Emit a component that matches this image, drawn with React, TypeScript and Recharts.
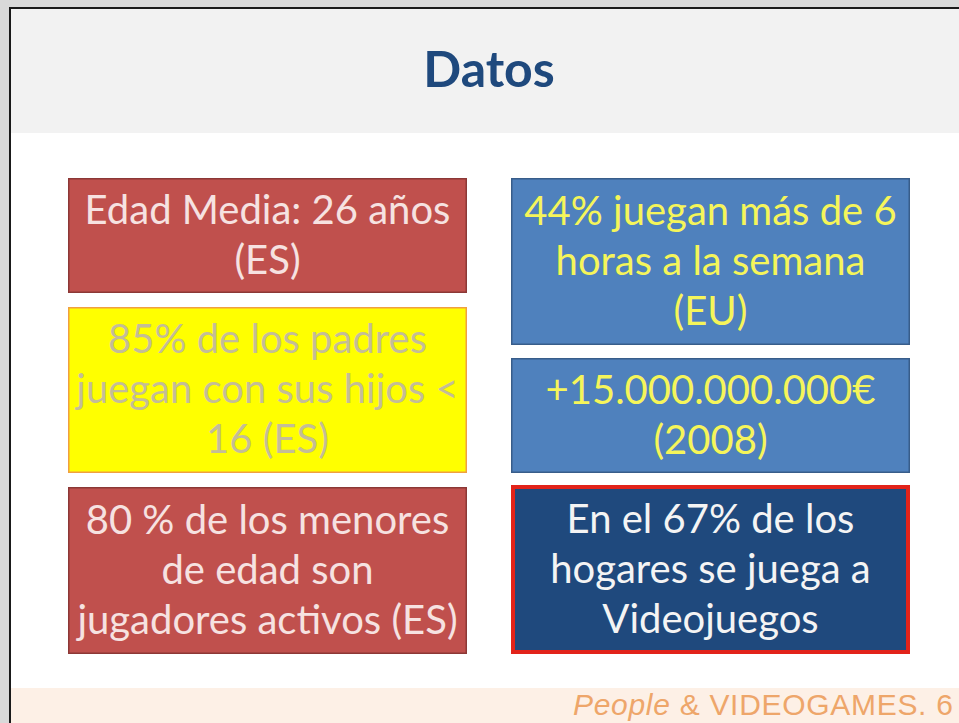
import React from 'react'
import { BarChart, Bar, XAxis, YAxis } from 'recharts'

// two columns of boxes, stacked top to bottom (box, gap, box, gap, box)
const columns = ['izquierda', 'derecha']
const leftHeights = [115, 166, 167]
const rightHeights = [167, 115, 169]
const leftGaps = [14, 14]
const rightGaps = [13, 12]

const leftTexts = [
  ['Edad Media: 26 años', '(ES)'],
  ['85% de los padres', 'juegan con sus hijos <', '16 (ES)'],
  ['80 % de los menores', 'de edad son', 'jugadores activos (ES)'],
]
const rightTexts = [
  ['44% juegan más de 6', 'horas a la semana', '(EU)'],
  ['+15.000.000.000€', '(2008)'],
  ['En el 67% de los', 'hogares se juega a', 'Videojuegos'],
]

type BoxStyle = { fill: string; stroke: string; strokeWidth: number; text: string }

const RED: BoxStyle = { fill: '#c0504d', stroke: '#8c3836', strokeWidth: 1.5, text: '#f6e2e1' }
const YELLOW: BoxStyle = { fill: '#ffff00', stroke: '#f0a040', strokeWidth: 1.5, text: '#c4bd97' }
const BLUE: BoxStyle = { fill: '#4f81bd', stroke: '#385d8a', strokeWidth: 1.5, text: '#f5f55a' }
const NAVY: BoxStyle = { fill: '#1f497d', stroke: '#e2231a', strokeWidth: 4, text: '#f4f4f4' }

const leftStyles = [RED, YELLOW, RED]
const rightStyles = [BLUE, BLUE, NAVY]

const FONT = 'Lato, "Noto Sans", sans-serif'
const FONT_SIZE = 40
const LINE_GAP = 50

const data = columns.map((col, c) => {
  const h = c === 0 ? leftHeights : rightHeights
  const g = c === 0 ? leftGaps : rightGaps
  return { col, b0: h[0], g0: g[0], b1: h[1], g1: g[1], b2: h[2] }
})

const makeShape = (box: number) => (props: any) => {
  const { x, y, width, height, index } = props
  const top = Math.min(y, y + height)
  const h = Math.abs(height)
  const st = index === 0 ? leftStyles[box] : rightStyles[box]
  const lines = index === 0 ? leftTexts[box] : rightTexts[box]
  const cx = x + width / 2
  const cy = top + h / 2
  const sw = st.strokeWidth
  return (
    <g>
      <rect
        x={x + sw / 2}
        y={top + sw / 2}
        width={width - sw}
        height={h - sw}
        fill={st.fill}
        stroke={st.stroke}
        strokeWidth={sw}
      />
      {lines.map((line, i) => (
        <text
          key={i}
          x={cx}
          y={cy + (i - (lines.length - 1) / 2) * LINE_GAP + FONT_SIZE * 0.33}
          textAnchor="middle"
          fontFamily={FONT}
          fontSize={FONT_SIZE}
          fill={st.text}
        >
          {line}
        </text>
      ))}
    </g>
  )
}

const gapShape = () => <g />

export default function App() {
  return (
    <div
      style={{
        position: 'absolute',
        left: 0,
        top: 0,
        width: 959,
        height: 723,
        overflow: 'hidden',
        background: '#d9d9d9',
      }}
    >
      <div
        style={{
          position: 'absolute',
          left: 9,
          top: 7,
          width: 1000,
          height: 800,
          borderLeft: '2px solid #1a1a1a',
          borderTop: '2px solid #1a1a1a',
          background: '#ffffff',
        }}
      >
        <div style={{ position: 'absolute', left: 0, top: 0, right: 0, height: 124, background: '#f2f2f2' }} />
        <div style={{ position: 'absolute', left: 0, top: 679, right: 0, height: 200, background: '#fdf0e6' }} />
      </div>
      <div
        style={{
          position: 'absolute',
          left: 0,
          width: 978,
          top: 43,
          textAlign: 'center',
          fontFamily: FONT,
          fontWeight: 700,
          fontSize: 50,
          lineHeight: '50px',
          color: '#1f497d',
        }}
      >
        Datos
      </div>
      <div
        style={{
          position: 'absolute',
          left: 573,
          top: 689,
          whiteSpace: 'nowrap',
          fontFamily: '"Liberation Sans", Arial, sans-serif',
          fontSize: 30,
          letterSpacing: 0.7,
          lineHeight: '32px',
          color: '#eea66a',
        }}
      >
        <i>People</i> &amp; VIDEOGAMES. 6
      </div>
      <div style={{ position: 'absolute', left: 0, top: 0 }}>
        <BarChart
          width={959}
          height={723}
          data={data}
          margin={{ top: 178, bottom: 69, left: 46, right: 27 }}
          barSize={399}
        >
          <XAxis dataKey="col" hide />
          <YAxis type="number" domain={[0, 476]} reversed hide />
          <Bar dataKey="b0" stackId="a" shape={makeShape(0)} isAnimationActive={false} />
          <Bar dataKey="g0" stackId="a" shape={gapShape} isAnimationActive={false} />
          <Bar dataKey="b1" stackId="a" shape={makeShape(1)} isAnimationActive={false} />
          <Bar dataKey="g1" stackId="a" shape={gapShape} isAnimationActive={false} />
          <Bar dataKey="b2" stackId="a" shape={makeShape(2)} isAnimationActive={false} />
        </BarChart>
      </div>
    </div>
  )
}
